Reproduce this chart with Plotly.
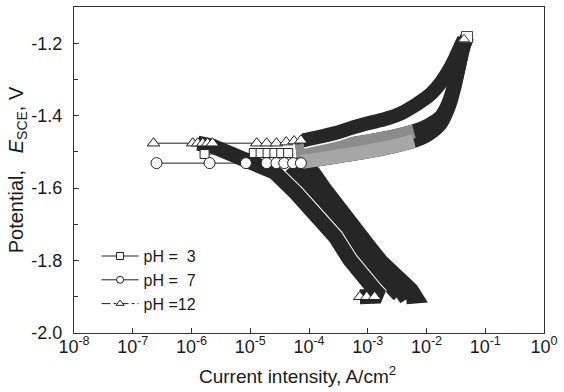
import plotly.graph_objects as go

# ---------------- data ----------------
x_tickvals = [1e-8, 1e-7, 1e-6, 1e-5, 1e-4, 1e-3, 1e-2, 1e-1, 1e0]
x_ticktext = ["10<sup>-8</sup>", "10<sup>-7</sup>", "10<sup>-6</sup>", "10<sup>-5</sup>",
              "10<sup>-4</sup>", "10<sup>-3</sup>", "10<sup>-2</sup>", "10<sup>-1</sup>", "10<sup>0</sup>"]
y_tickvals = [-2.0, -1.8, -1.6, -1.4, -1.2]
y_ticktext = ["-2.0", "-1.8", "-1.6", "-1.4", "-1.2"]
series_names = ["pH =\u00a0\u00a03", "pH =\u00a0\u00a07", "pH =12"]
x_title = "Current intensity, A/cm<sup>2</sup>"
y_title = "Potential,\u00a0\u00a0\u00a0<i>E</i><sub>SCE</sub>,\u00a0V"

# pH 3 : cathodic branch (scan starts at -1.9 V)
ph3_cat_i = [4.49e-3, 6.35e-3, 5.45e-3, 3.71e-3, 2.52e-3, 1.71e-3, 1.17e-3, 7.94e-4,
             5.40e-4, 3.67e-4, 2.50e-4, 1.70e-4, 1.20e-4, 8.83e-5, 6.01e-5]
ph3_cat_e = [-1.900, -1.898, -1.881, -1.859, -1.835, -1.804, -1.771, -1.738,
             -1.708, -1.672, -1.633, -1.595, -1.559, -1.537, -1.517]
# pH 3 : points around the corrosion potential
ph3_cor_i = [1.67e-6, 1.15e-5, 1.50e-5, 1.97e-5, 2.58e-5, 3.37e-5, 4.42e-5]
ph3_cor_e = [-1.506, -1.503, -1.503, -1.503, -1.503, -1.503, -1.503]
# pH 3 : anodic branch
ph3_an_i = [6.01e-5, 1.57e-4, 4.12e-4, 1.08e-3, 2.83e-3, 6.11e-3, 1.09e-2,
            1.73e-2, 2.35e-2, 2.96e-2, 3.59e-2, 4.19e-2, 4.89e-2]
ph3_an_e = [-1.498, -1.490, -1.481, -1.470, -1.457, -1.443, -1.426,
            -1.404, -1.366, -1.316, -1.261, -1.214, -1.183]

# pH 7
ph7_cat_i = [3.06e-3, 3.43e-3, 2.83e-3, 2.16e-3, 1.59e-3, 1.12e-3, 7.94e-4, 5.61e-4,
             3.82e-4, 2.50e-4, 1.57e-4, 9.93e-5, 6.01e-5, 4.78e-5]
ph7_cat_e = [-1.900, -1.895, -1.881, -1.859, -1.835, -1.804, -1.771, -1.741,
             -1.708, -1.672, -1.633, -1.597, -1.559, -1.542]
ph7_cor_i = [2.54e-7, 2.03e-6, 8.44e-6, 1.90e-5, 2.79e-5, 3.79e-5, 5.36e-5, 7.29e-5]
ph7_cor_e = [-1.531, -1.531, -1.531, -1.531, -1.531, -1.531, -1.531, -1.531]
ph7_an_i = [7.29e-5, 1.57e-4, 4.12e-4, 1.08e-3, 2.83e-3, 6.11e-3, 1.09e-2,
            1.73e-2, 2.35e-2, 2.96e-2, 3.59e-2, 4.19e-2, 4.89e-2]
ph7_an_e = [-1.528, -1.520, -1.509, -1.498, -1.484, -1.470, -1.451,
            -1.423, -1.379, -1.324, -1.263, -1.214, -1.183]

# pH 12
ph12_cat_i = [7.34e-4, 9.62e-4, 1.31e-3, 1.65e-3, 1.31e-3, 8.24e-4, 5.00e-4, 2.81e-4,
              1.91e-4, 1.30e-4, 6.01e-5, 2.58e-5, 1.06e-5, 4.92e-6, 2.28e-6, 1.28e-6]
ph12_cat_e = [-1.900, -1.900, -1.900, -1.898, -1.881, -1.846, -1.799, -1.735,
              -1.702, -1.669, -1.614, -1.556, -1.526, -1.501, -1.484, -1.476]
ph12_cor_i = [2.26e-7, 1.05e-6, 1.28e-6, 1.55e-6, 1.88e-6, 2.28e-6, 1.29e-5, 1.90e-5,
              2.79e-5, 4.09e-5, 5.57e-5, 7.29e-5]
ph12_cor_e = [-1.476, -1.476, -1.476, -1.476, -1.476, -1.476, -1.476, -1.476,
              -1.476, -1.473, -1.470, -1.468]
ph12_an_i = [7.87e-5, 1.46e-4, 2.81e-4, 5.00e-4, 1.00e-3, 1.92e-3, 3.43e-3, 6.86e-3,
             1.17e-2, 1.73e-2, 2.35e-2, 3.08e-2, 3.73e-2, 4.35e-2]
ph12_an_e = [-1.468, -1.459, -1.448, -1.435, -1.421, -1.410, -1.396, -1.368,
             -1.341, -1.310, -1.277, -1.241, -1.211, -1.189]

# ---------------- styling ----------------
FONT = "Liberation Sans, Arial, Helvetica, sans-serif"
DARK = "#262626"
TXT = "#1a1a1a"
BAND_W = 15
symbols = ["square", "circle", "triangle-up"]
msizes = [9, 11, 11]

fig = go.Figure()


def band(x, y, color, width, shape="linear"):
    fig.add_trace(go.Scatter(x=x, y=y, mode="lines", showlegend=False, hoverinfo="skip",
                             line=dict(color=color, width=width, shape=shape, smoothing=0.8)))


# cathodic bands pH 3, pH 7
band(ph3_cat_i, ph3_cat_e, DARK, BAND_W)
band(ph7_cat_i, ph7_cat_e, DARK, BAND_W)
# anodic bands pH 3 / pH 7 (dark, greyish in the lower part)
band(ph3_an_i, ph3_an_e, DARK, BAND_W - 1, "spline")
band(ph7_an_i, ph7_an_e, DARK, BAND_W - 1, "spline")
band(ph3_an_i[:6], ph3_an_e[:6], "#8c8c8c", BAND_W - 1, "spline")
band(ph7_an_i[:6], ph7_an_e[:6], "#a6a6a6", BAND_W - 1, "spline")
# pH 12 bands, with a thin white rim where they touch the others
band(ph12_cat_i, ph12_cat_e, "white", BAND_W + 2)
band(ph12_cat_i, ph12_cat_e, DARK, BAND_W)
band(ph12_an_i[:9], ph12_an_e[:9], "white", BAND_W + 2, "spline")
band(ph12_an_i, ph12_an_e, DARK, BAND_W - 1, "spline")

# markers around the corrosion potential
for xs, ys, sym, ms in [(ph3_cor_i, ph3_cor_e, symbols[0], msizes[0]),
                        (ph7_cor_i, ph7_cor_e, symbols[1], msizes[1]),
                        (ph12_cor_i, ph12_cor_e, symbols[2], msizes[2])]:
    fig.add_trace(go.Scatter(x=xs, y=ys, mode="lines+markers", showlegend=False,
                             line=dict(color="#222", width=1),
                             marker=dict(symbol=sym, size=ms, color="white",
                                         line=dict(color="#222", width=1))))

# end markers
fig.add_trace(go.Scatter(x=ph12_cat_i[:3], y=ph12_cat_e[:3], mode="markers", showlegend=False,
                         marker=dict(symbol="triangle-up", size=11, color="white",
                                     line=dict(color="#222", width=1))))
fig.add_trace(go.Scatter(x=ph3_an_i[-1:], y=ph3_an_e[-1:], mode="markers", showlegend=False,
                         marker=dict(symbol="square", size=11, color="white",
                                     line=dict(color="#444", width=1))))
fig.add_trace(go.Scatter(x=ph12_an_i[-1:], y=ph12_an_e[-1:], mode="markers", showlegend=False,
                         marker=dict(symbol="triangle-up", size=10, color="white",
                                     line=dict(color="#444", width=1))))

# legend entries
for k, (nm, sym) in enumerate(zip(series_names, symbols)):
    fig.add_trace(go.Scatter(x=[None], y=[None], mode="lines+markers", name=nm,
                             legendgroup=str(k),
                             line=dict(color="#222", width=1, dash="dashdot" if k == 2 else "solid"),
                             marker=dict(symbol=sym, size=7, color="white",
                                         line=dict(color="#222", width=1))))

axis_common = dict(showline=True, linecolor="#333", linewidth=1, mirror=True,
                   ticks="inside", ticklen=5, tickcolor="#333", showgrid=False, zeroline=False,
                   ticklabeloverflow="allow",
                   tickfont=dict(family=FONT, size=18, color=TXT))

fig.update_xaxes(type="log", range=[-8, 0], tickmode="array", tickvals=x_tickvals,
                 ticktext=x_ticktext, ticklabelstandoff=-3, **axis_common)
fig.update_yaxes(range=[-2.0, -1.1], tickmode="array", tickvals=y_tickvals,
                 ticktext=y_ticktext, ticklabelstandoff=7,
                 minor=dict(tickmode="linear", tick0=-2.0, dtick=0.1, ticks="inside",
                            ticklen=4, tickcolor="#333"),
                 title=dict(text=y_title, font=dict(family=FONT, size=20, color=TXT), standoff=2),
                 **axis_common)

fig.add_annotation(text=x_title, xref="paper", yref="paper", x=0.475, y=-0.13,
                   xanchor="center", yanchor="middle", showarrow=False,
                   font=dict(family=FONT, size=19, color=TXT))

fig.update_layout(
    width=564, height=392,
    margin=dict(l=74, r=12, t=6, b=59),
    paper_bgcolor="white", plot_bgcolor="white",
    font=dict(family=FONT, size=16, color=TXT),
    legend=dict(x=0.048, y=0.288, xanchor="left", yanchor="top",
                bgcolor="rgba(0,0,0,0)", tracegroupgap=0, itemwidth=37,
                font=dict(family=FONT, size=16, color=TXT)),
)

fig.write_html("out.html", config={"displayModeBar": False},
               post_script="document.body.style.margin='0px';")
